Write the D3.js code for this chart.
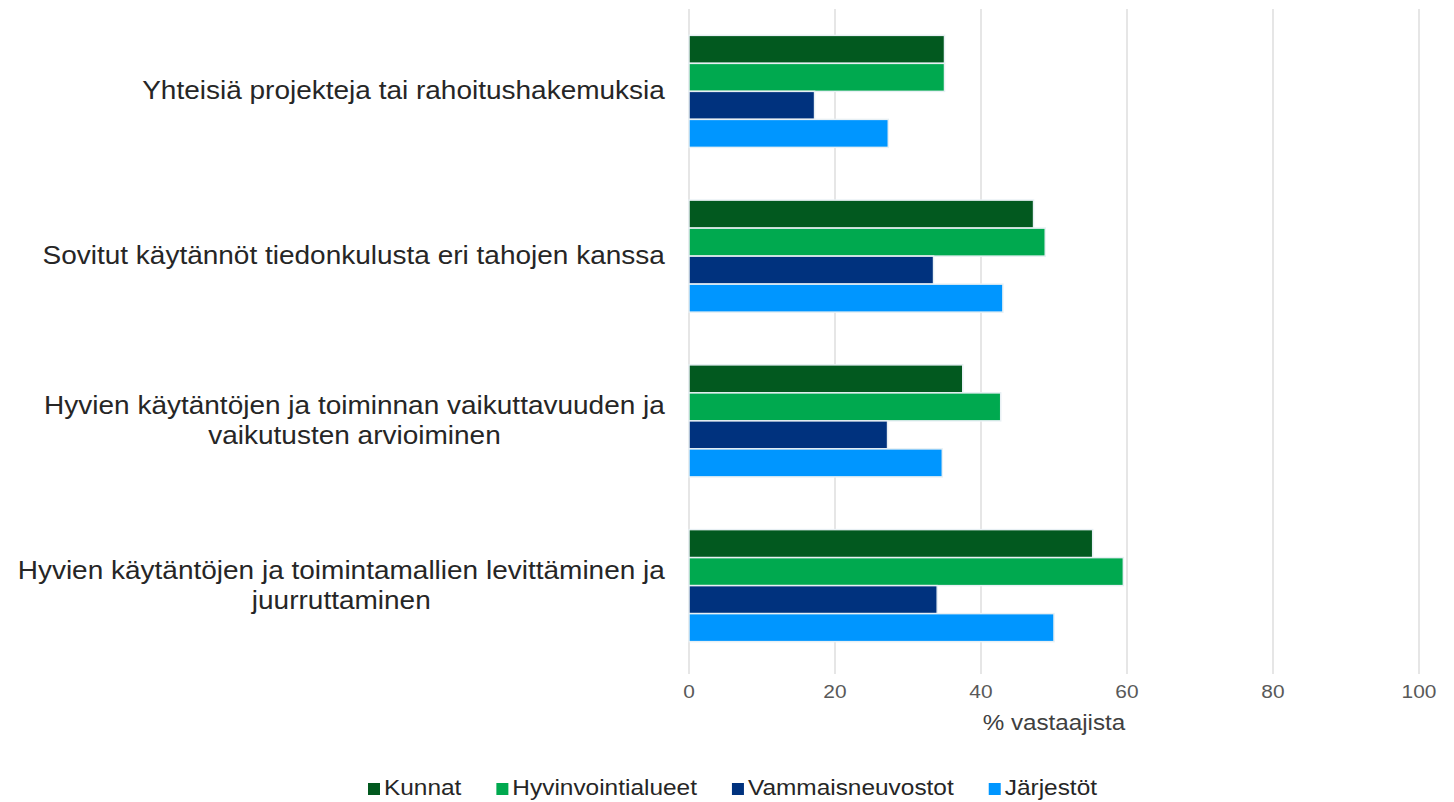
<!DOCTYPE html>
<html>
<head>
<meta charset="utf-8">
<script src="https://cdn.jsdelivr.net/npm/d3@7"></script>
<style>
  body { margin: 0; background: #fff; }
  text { font-family: "Liberation Sans", Arial, sans-serif; }
</style>
</head>
<body>
<svg id="chart" width="1454" height="802"></svg>
<script>
const categories = [
    "Yhteisiä projekteja tai rahoitushakemuksia",
    "Sovitut käytännöt tiedonkulusta eri tahojen kanssa",
    "Hyvien käytäntöjen ja toiminnan vaikuttavuuden ja vaikutusten arvioiminen",
    "Hyvien käytäntöjen ja toimintamallien levittäminen ja juurruttaminen"
];
// label lines as in the picture
const labelLines = [
    ["Yhteisiä projekteja tai rahoitushakemuksia"],
    ["Sovitut käytännöt tiedonkulusta eri tahojen kanssa"],
    ["Hyvien käytäntöjen ja toiminnan vaikuttavuuden ja", "vaikutusten arvioiminen"],
    ["Hyvien käytäntöjen ja toimintamallien levittäminen ja", "juurruttaminen"]
];
const seriesNames = ["Kunnat", "Hyvinvointialueet", "Vammaisneuvostot", "Järjestöt"];
const kunnat = [35.0, 47.2, 37.5, 55.3];
const hyvinvointialueet = [35.0, 48.8, 42.7, 59.5];
const vammaisneuvostot = [17.2, 33.5, 27.2, 34.0];
const jarjestot = [27.3, 43.0, 34.7, 50.0];
const xTicks = [0, 20, 40, 60, 80, 100];

const seriesValues = [kunnat, hyvinvointialueet, vammaisneuvostot, jarjestot];
const colors = ["#02591f", "#00a94f", "#00327e", "#0096ff"];

const svg = d3.select("#chart");
const plotLeft = 689, plotRight = 1419, plotTop = 9, plotBottom = 668;
// the picture's text is a bit wider than Liberation Sans
const sx = 1.12;

const x = d3.scaleLinear().domain([0, 100]).range([plotLeft, plotRight]);
const y = d3.scaleBand().domain(categories).range([plotTop, plotBottom]).paddingInner(0.32).paddingOuter(0.16);
const ySub = d3.scaleBand().domain(seriesNames).range([0, y.bandwidth()]).padding(0);

// gridlines
svg.append("g")
    .selectAll("line")
    .data(xTicks)
    .join("line")
    .attr("x1", d => x(d)).attr("x2", d => x(d))
    .attr("y1", plotTop).attr("y2", plotBottom + 6)
    .attr("stroke", "#d9d9d9")
    .attr("stroke-width", 1.3);

// x axis labels
svg.append("g")
    .selectAll("text")
    .data(xTicks)
    .join("text")
    .attr("transform", d => `translate(${x(d)}, 698) scale(1.1, 1)`)
    .attr("text-anchor", "middle")
    .attr("font-size", 19)
    .attr("fill", "#595959")
    .text(d => d);

svg.append("text")
    .attr("transform", `translate(${(plotLeft + plotRight) / 2}, 730) scale(1.1, 1)`)
    .attr("text-anchor", "middle")
    .attr("font-size", 22)
    .attr("fill", "#404040")
    .text("% vastaajista");

// bars
const groups = svg.append("g")
    .selectAll("g")
    .data(categories)
    .join("g")
    .attr("transform", d => `translate(0, ${y(d)})`);

groups.selectAll("rect")
    .data((d, i) => seriesNames.map((s, j) => ({ s: s, v: seriesValues[j][i], c: colors[j] })))
    .join("rect")
    .attr("x", x(0))
    .attr("y", d => ySub(d.s))
    .attr("width", d => x(d.v) - x(0))
    .attr("height", ySub.bandwidth())
    .attr("fill", d => d.c)
    .attr("stroke", "#e8f0f4")
    .attr("stroke-width", 1.5);

// category labels
const labelRight = 665;
const lineH = 30;
categories.forEach((c, i) => {
    const lines = labelLines[i];
    const texts = svg.append("g").selectAll("text")
        .data(lines)
        .join("text")
        .attr("font-size", 25)
        .attr("fill", "#262626")
        .attr("text-anchor", "middle")
        .text(d => d);
    let maxW = 0;
    texts.each(function () { maxW = Math.max(maxW, this.getComputedTextLength() * sx); });
    const cy = y(c) + y.bandwidth() / 2;
    const y0 = cy - (lines.length - 1) * lineH / 2 + 8;
    texts.attr("transform", (d, k) => `translate(${labelRight - maxW / 2}, ${y0 + k * lineH}) scale(${sx}, 1)`);
});

// legend
const legendSx = 1.11;
const legend = svg.append("g")
    .selectAll("g")
    .data(seriesNames)
    .join("g");
legend.append("rect")
    .attr("x", 0).attr("y", -12)
    .attr("width", 12).attr("height", 12)
    .attr("fill", (d, i) => colors[i]);
legend.append("text")
    .attr("transform", `translate(16, 0) scale(${legendSx}, 1)`)
    .attr("font-size", 22)
    .attr("fill", "#262626")
    .text(d => d);
let lx = 368;
legend.each(function () {
    const w = d3.select(this).select("text").node().getComputedTextLength() * legendSx;
    d3.select(this).attr("transform", `translate(${lx}, 795)`);
    lx += 16 + w + 35;
});
</script>
</body>
</html>
